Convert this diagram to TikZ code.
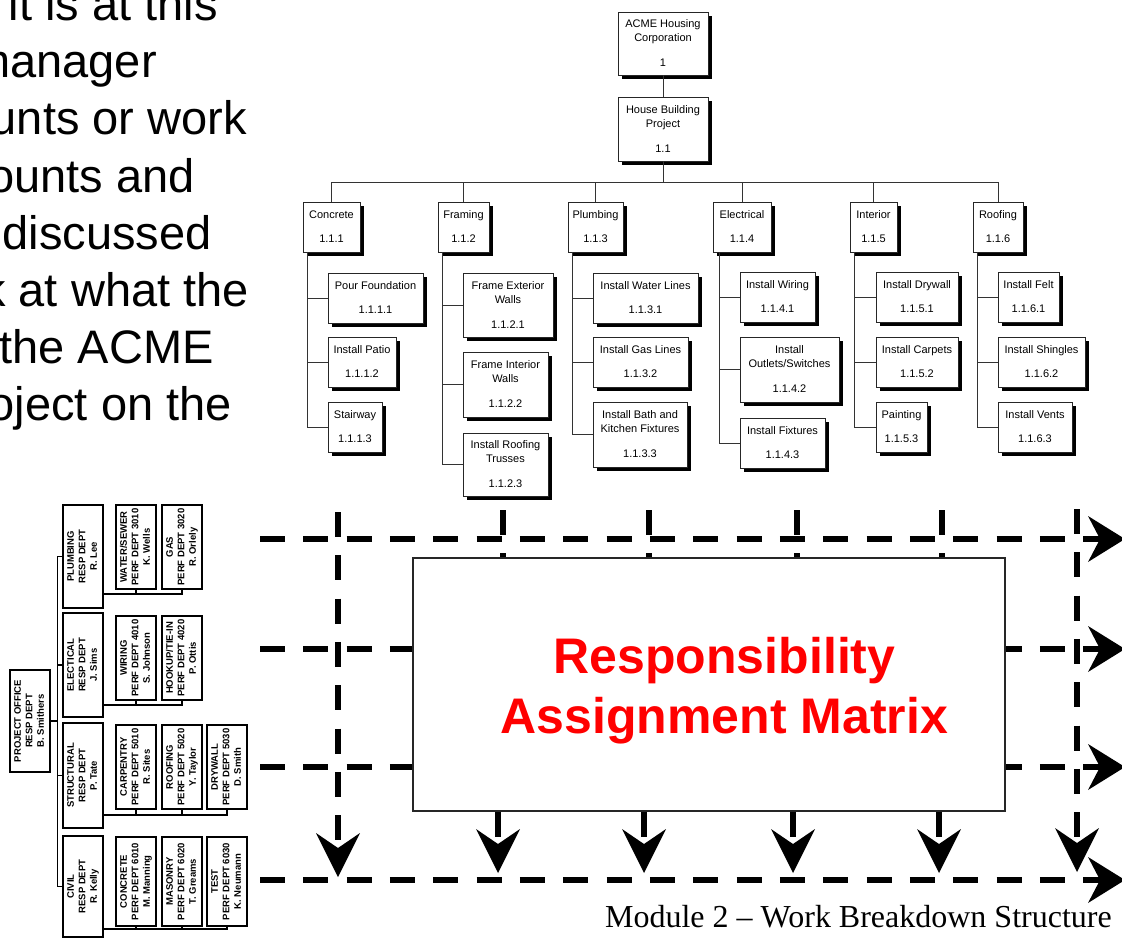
\documentclass[tikz,border=0pt]{standalone}
\usepackage{fontspec}
\usepackage{graphicx}
\setmainfont{Liberation Sans}
\newfontfamily\serifm{Liberation Serif}
\usetikzlibrary{arrows.meta,shadows}
\newcommand\orgtxt[3]{\rotatebox{90}{\begin{tabular}{@{}c@{}}#1\\#2\\#3\end{tabular}}}
\begin{document}
\begin{tikzpicture}[x=1pt,y=-1pt,
  wbs/.style={draw=black!85, line width=0.9pt, fill=white, inner sep=0pt, align=center,
    font=\fontsize{11}{14}\selectfont,
    drop shadow={shadow xshift=4pt, shadow yshift=-4pt, opacity=1, fill=black}},
  wline/.style={draw=black!80, line width=0.9pt},
  org/.style={draw=black, line width=1.1pt, fill=white, inner sep=0pt,
    font=\fontsize{9.5}{11.5}\selectfont\bfseries},
  othin/.style={draw=black, line width=1.1pt},
  othick/.style={draw=black, line width=2pt},
  dline/.style={line width=6pt, dash pattern=on 25pt off 18.33pt},
  rtip/.style={-{Stealth[length=37pt,width=46pt,inset=12pt,line width=0pt]}},
  dtip/.style={-{Stealth[length=44pt,width=44pt,inset=15pt,line width=0pt]}},
  big/.style={font=\fontsize{47}{57}\selectfont, anchor=base east, inner sep=0pt}
]
\useasboundingbox (0,0) rectangle (1122,939);
\clip (0,0) rectangle (1122,939);

% ---------- paragraph text (cut at the left) ----------
\node[big] (t1) at (218,21)  {it is at this};
\node[big] (t2) at (157,78)  {manager};
\node[big] (t3) at (247,135) {unts or work};
\node[big] (t4) at (195,192) {ounts and};
\node[big] (t5) at (212,249) {discussed};
\node[big] (t6) at (249,306) {k at what the};
\node[big] (t7) at (214,363) {the ACME};
\node[big] (t8) at (232,420) {oject on the};

% ---------- WBS tree ----------
\node[wbs, minimum width=90pt, minimum height=63pt] (acme) at (663,43.5) {ACME Housing\\Corporation\\[11pt]1};
\node[wbs, minimum width=90pt, minimum height=64pt] (house) at (663,129) {House Building\\Project\\[11pt]1.1};

\node[wbs, minimum width=57pt, minimum height=50pt] (c1) at (331.5,227) {Concrete\\[10pt]1.1.1};
\node[wbs, minimum width=51pt, minimum height=50pt] (c2) at (463.5,227) {Framing\\[10pt]1.1.2};
\node[wbs, minimum width=55pt, minimum height=50pt] (c3) at (595.5,227) {Plumbing\\[10pt]1.1.3};
\node[wbs, minimum width=58pt, minimum height=50pt] (c4) at (742,227) {Electrical\\[10pt]1.1.4};
\node[wbs, minimum width=47pt, minimum height=50pt] (c5) at (873.5,227) {Interior\\[10pt]1.1.5};
\node[wbs, minimum width=50pt, minimum height=50pt] (c6) at (998,227) {Roofing\\[10pt]1.1.6};

\node[wbs, minimum width=95pt, minimum height=50pt] (c11) at (375.5,298) {Pour Foundation\\[10pt]1.1.1.1};
\node[wbs, minimum width=68pt, minimum height=50pt] (c12) at (362,362) {Install Patio\\[10pt]1.1.1.2};
\node[wbs, minimum width=54pt, minimum height=50pt] (c13) at (355,427) {Stairway\\[10pt]1.1.1.3};

\node[wbs, minimum width=90pt, minimum height=64pt] (c21) at (508,305) {Frame Exterior\\Walls\\[11pt]1.1.2.1};
\node[wbs, minimum width=85pt, minimum height=65pt] (c22) at (505.5,384.5) {Frame Interior\\Walls\\[11pt]1.1.2.2};
\node[wbs, minimum width=85pt, minimum height=63pt] (c23) at (505.5,464.5) {Install Roofing\\Trusses\\[11pt]1.1.2.3};

\node[wbs, minimum width=105pt, minimum height=50pt] (c31) at (645.5,298) {Install Water Lines\\[10pt]1.1.3.1};
\node[wbs, minimum width=95pt, minimum height=50pt] (c32) at (640.5,362) {Install Gas Lines\\[10pt]1.1.3.2};
\node[wbs, minimum width=94pt, minimum height=65pt] (c33) at (640,434.5) {Install Bath and\\Kitchen Fixtures\\[11pt]1.1.3.3};

\node[wbs, minimum width=75pt, minimum height=50pt] (c41) at (777.5,297) {Install Wiring\\[10pt]1.1.4.1};
\node[wbs, minimum width=99pt, minimum height=65pt] (c42) at (789.5,369.5) {Install\\Outlets/Switches\\[11pt]1.1.4.2};
\node[wbs, minimum width=85pt, minimum height=50pt] (c43) at (782.5,443) {Install Fixtures\\[10pt]1.1.4.3};

\node[wbs, minimum width=82pt, minimum height=50pt] (c51) at (917,297) {Install Drywall\\[10pt]1.1.5.1};
\node[wbs, minimum width=82pt, minimum height=50pt] (c52) at (917,362) {Install Carpets\\[10pt]1.1.5.2};
\node[wbs, minimum width=51pt, minimum height=50pt] (c53) at (901.5,427) {Painting\\[10pt]1.1.5.3};

\node[wbs, minimum width=61pt, minimum height=50pt] (c61) at (1028.5,297) {Install Felt\\[10pt]1.1.6.1};
\node[wbs, minimum width=87pt, minimum height=50pt] (c62) at (1041.5,362) {Install Shingles\\[10pt]1.1.6.2};
\node[wbs, minimum width=74pt, minimum height=50pt] (c63) at (1035,427) {Install Vents\\[10pt]1.1.6.3};

\draw[wline] (acme.south) -- (house.south |- acme.south) -- (house.north);
\foreach \c in {c1,c2,c3,c4,c5,c6}
  \draw[wline] (house.south) -- ++(0,21) -| (\c.north);
\foreach \p/\a/\b/\d in {c1/c11/c12/c13, c2/c21/c22/c23, c3/c31/c32/c33, c5/c51/c52/c53, c6/c61/c62/c63} {
  \draw[wline] ([xshift=5pt]\p.south west) |- (\a.west);
  \draw[wline] ([xshift=5pt]\p.south west) |- (\b.west);
  \draw[wline] ([xshift=5pt]\p.south west) |- (\d.west);
}
\draw[wline] ([xshift=7pt]c4.south west) |- (c41.west);
\draw[wline] ([xshift=7pt]c4.south west) |- (c42.west);
\draw[wline] ([xshift=7pt]c4.south west) |- (c43.west);

% ---------- dashed matrix lines ----------
\coordinate (h1s) at (260,539); \coordinate (h1e) at (1125,539);
\coordinate (h2s) at (260,649); \coordinate (h2e) at (1125,649);
\coordinate (h3s) at (260,767); \coordinate (h3e) at (1125,767);
\coordinate (h4s) at (260,880); \coordinate (h4e) at (1125,880);
\draw[dline,rtip] (h1s) -- (h1e);
\draw[dline,rtip] (h2s) -- (h2e);
\draw[dline,rtip] (h3s) -- (h3e);
\draw[dline,rtip] (h4s) -- (h4e);

\coordinate (vls) at (338,512); \coordinate (vle) at (338,877);
\coordinate (vrs) at (1077,509); \coordinate (vre) at (1077,872);
\draw[dline,dtip] (vls) -- (vle);
\draw[dline,dtip] (vrs) -- (vre);
\foreach \x in {503,649,797,942}
  \draw[dline] (\x,510) -- (\x,600);

% ---------- responsibility assignment matrix ----------
\node[draw=black!85, line width=1.3pt, fill=white, minimum width=592pt, minimum height=253pt, inner sep=0pt] (ram) at (709,684.5) {};
\foreach \x in {498,644,793,939}
  \draw[dline,dtip] (ram.south -| \x,0) -- (\x,873);
\node[anchor=base, align=center, inner sep=0pt, text=red,
      font=\fontsize{50}{60}\selectfont\bfseries] (ramt) at (724.5,733) {Responsibility\\Assignment Matrix};

% ---------- organisation chart ----------
\node[org, minimum width=40pt, minimum height=102pt] (po) at (30,721) {\orgtxt{PROJECT OFFICE}{RESP DEPT}{B. Smithers}};
\node[org, minimum width=40pt, minimum height=103pt] (rp) at (83,556.5) {\orgtxt{PLUMBING}{RESP DEPT}{R. Lee}};
\node[org, minimum width=40pt, minimum height=104pt] (re) at (83,665) {\orgtxt{ELECTICAL}{RESP DEPT}{J. Sims}};
\node[org, minimum width=40pt, minimum height=105pt] (rs) at (83,775.5) {\orgtxt{STRUCTURAL}{RESP DEPT}{P. Tate}};
\node[org, minimum width=40pt, minimum height=101pt] (rc) at (83,886.5) {\orgtxt{CIVIL}{RESP DEPT}{R. Kelly}};

\node[org, minimum width=40pt, minimum height=84pt] (p1) at (136,547) {\orgtxt{WATER/SEWER}{PERF DEPT 3010}{K. Wells}};
\node[org, minimum width=40pt, minimum height=84pt] (p2) at (182,547) {\orgtxt{GAS}{PERF DEPT 3020}{R. Orlely}};
\node[org, minimum width=40pt, minimum height=84pt] (e1) at (136,658) {\orgtxt{WIRING}{PERF DEPT 4010}{S. Johnson}};
\node[org, minimum width=40pt, minimum height=84pt] (e2) at (182,658) {\orgtxt{HOOKUP/TIE-IN}{PERF DEPT 4020}{P. Ottis}};
\node[org, minimum width=40pt, minimum height=84pt] (s1) at (136,767) {\orgtxt{CARPENTRY}{PERF DEPT 5010}{R. Sites}};
\node[org, minimum width=40pt, minimum height=84pt] (s2) at (182,767) {\orgtxt{ROOFING}{PERF DEPT 5020}{Y. Taylor}};
\node[org, minimum width=40pt, minimum height=84pt] (s3) at (227,767) {\orgtxt{DRYWALL}{PERF DEPT 5030}{D. Smith}};
\node[org, minimum width=40pt, minimum height=89pt] (v1) at (136,881.5) {\orgtxt{CONCRETE}{PERF DEPT 6010}{M. Manning}};
\node[org, minimum width=40pt, minimum height=89pt] (v2) at (182,881.5) {\orgtxt{MASONRY}{PERF DEPT 6020}{T. Greams}};
\node[org, minimum width=40pt, minimum height=89pt] (v3) at (227,881.5) {\orgtxt{TEST}{PERF DEPT 6030}{K. Neumann}};

\foreach \r in {rp,re,rs,rc}
  \draw[othin] (po.east) -- ++(7,0) |- (\r.west);

\draw[othick] (rp.east |- 0,594) -- (p2.south |- 0,594) -- (p2.south);
\draw[othick] (p1.south) -- (p1.south |- 0,594);
\draw[othick] (re.east |- 0,705) -- (e2.south |- 0,705) -- (e2.south);
\draw[othick] (e1.south) -- (e1.south |- 0,705);
\draw[othick] (rs.east |- 0,815) -- (s3.south |- 0,815) -- (s3.south);
\draw[othick] (s1.south) -- (s1.south |- 0,815);
\draw[othick] (s2.south) -- (s2.south |- 0,815);
\draw[othick] (rc.east |- 0,929) -- (v3.south |- 0,929) -- (v3.south);
\draw[othick] (v1.south) -- (v1.south |- 0,929);
\draw[othick] (v2.south) -- (v2.south |- 0,929);

% ---------- footer ----------
\node[anchor=base east, inner sep=0pt, font=\serifm\fontsize{32}{38}\selectfont] (foot) at (1112,927) {Module 2 – Work Breakdown Structure};
\end{tikzpicture}
\end{document}
